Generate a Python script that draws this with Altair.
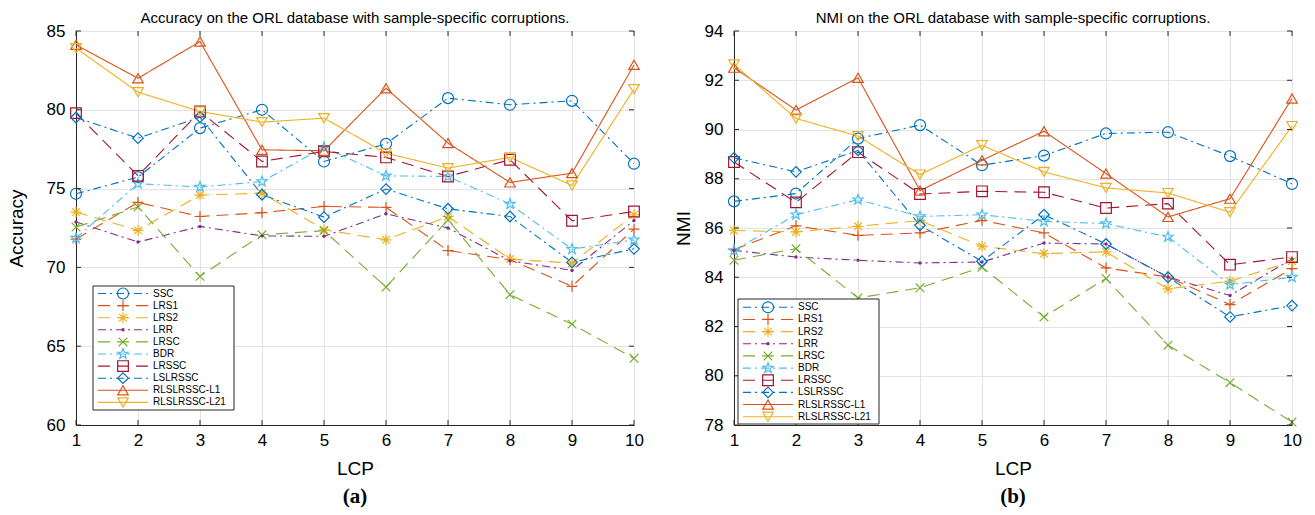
import math
import altair as alt
import pandas as pd

methods = ["SSC", "LRS1", "LRS2", "LRR", "LRSC", "BDR", "LRSSC", "LSLRSSC",
           "RLSLRSSC-L1", "RLSLRSSC-L21"]
lcp = [1, 2, 3, 4, 5, 6, 7, 8, 9, 10]

# (a) Accuracy
acc_ssc = [74.67, 75.73, 78.84, 80.0, 76.72, 77.84, 80.74, 80.32, 80.57, 76.58]
acc_lrs1 = [71.8, 74.12, 73.23, 73.47, 73.87, 73.81, 71.07, 70.49, 68.8, 72.43]
acc_lrs2 = [73.51, 72.35, 74.59, 74.71, 72.39, 71.75, 73.23, 70.53, 70.27, 73.34]
acc_lrr = [72.88, 71.61, 72.6, 72.0, 71.97, 73.4, 72.5, 70.42, 69.81, 72.98]
acc_lrsc = [72.56, 73.83, 69.43, 72.07, 72.33, 68.75, 73.02, 68.27, 66.4, 64.23]
acc_bdr = [71.86, 75.31, 75.1, 75.45, 77.63, 75.81, 75.77, 74.02, 71.16, 71.75]
acc_lrssc = [79.79, 75.81, 79.89, 76.72, 77.36, 76.98, 75.77, 76.83, 72.96, 73.55]
acc_lslrssc = [79.51, 78.2, 79.53, 74.61, 73.19, 74.97, 73.72, 73.23, 70.32, 71.18]
acc_l1 = [84.12, 82.0, 84.33, 77.46, 77.4, 81.37, 77.89, 75.39, 75.98, 82.85]
acc_l21 = [83.91, 81.12, 79.89, 79.22, 79.47, 77.25, 76.3, 76.98, 75.2, 81.31]

# (b) NMI
nmi_ssc = [87.08, 87.4, 89.63, 90.18, 88.55, 88.94, 89.84, 89.89, 88.92, 87.79]
nmi_lrs1 = [85.12, 86.09, 85.7, 85.8, 86.31, 85.8, 84.38, 84.01, 82.89, 84.35]
nmi_lrs2 = [85.9, 85.84, 86.07, 86.3, 85.26, 84.96, 85.03, 83.53, 83.84, 84.65]
nmi_lrr = [85.09, 84.82, 84.69, 84.58, 84.62, 85.39, 85.35, 84.01, 83.26, 84.74]
nmi_lrsc = [84.69, 85.16, 83.16, 83.57, 84.41, 82.39, 83.95, 81.24, 79.72, 78.12]
nmi_bdr = [85.09, 86.54, 87.15, 86.47, 86.54, 86.27, 86.18, 85.64, 83.7, 84.0]
nmi_lrssc = [88.68, 87.04, 89.08, 87.38, 87.49, 87.45, 86.81, 86.99, 84.51, 84.82]
nmi_lslrssc = [88.85, 88.28, 89.15, 86.11, 84.65, 86.54, 85.35, 84.0, 82.39, 82.85]
nmi_l1 = [92.51, 90.79, 92.1, 87.52, 88.75, 89.93, 88.21, 86.45, 87.19, 91.26]
nmi_l21 = [92.64, 90.45, 89.73, 88.17, 89.36, 88.28, 87.63, 87.42, 86.64, 90.14]

acc_series = [acc_ssc, acc_lrs1, acc_lrs2, acc_lrr, acc_lrsc, acc_bdr, acc_lrssc,
              acc_lslrssc, acc_l1, acc_l21]
nmi_series = [nmi_ssc, nmi_lrs1, nmi_lrs2, nmi_lrr, nmi_lrsc, nmi_bdr, nmi_lrssc,
              nmi_lslrssc, nmi_l1, nmi_l21]

acc_ticks = [60, 65, 70, 75, 80, 85]
nmi_ticks = [78, 80, 82, 84, 86, 88, 90, 92, 94]

# ---------------- styles ----------------
colors = ["#0072BD", "#D95319", "#EDB120", "#7E2F8E", "#77AC30", "#4DBEEE",
          "#A2142F", "#0072BD", "#D95319", "#EDB120"]
DASH = [12, 7]
DASHDOT = [8, 4, 2, 4]
SOLID = [1, 0]
dashes = [DASHDOT, DASH, DASH, DASHDOT, DASH, DASHDOT, DASH, DASHDOT, SOLID, SOLID]

PLUS = "M-1,0L1,0M0,-1L0,1"
ASTER = "M-1,0L1,0M0,-1L0,1M-0.7,-0.7L0.7,0.7M-0.7,0.7L0.7,-0.7"
XMARK = "M-0.8,-0.8L0.8,0.8M-0.8,0.8L0.8,-0.8"
pts = []
for i in range(10):
    r = 1.0 if i % 2 == 0 else 0.40
    a = math.radians(-90 + 36 * i)
    pts.append(f"{r * math.cos(a):.3f},{r * math.sin(a):.3f}")
STAR = "M" + "L".join(pts) + "Z"
shapes = ["circle", PLUS, ASTER, "circle", XMARK, STAR, "square", "diamond",
          "triangle-up", "triangle-down"]
sizes = [121, 110, 110, 10, 80, 170, 85, 120, 150, 150]

FONT = "Liberation Sans"
AXIS_COLOR = "#262626"

color_scale = alt.Scale(domain=methods, range=colors)
dash_scale = alt.Scale(domain=methods, range=dashes)
shape_scale = alt.Scale(domain=methods, range=shapes)
size_scale = alt.Scale(domain=methods, range=sizes)

W = 558
H = 394
TICK = 5


def make_df(series):
    rows = []
    for m, vals in zip(methods, series):
        for x, v in zip(lcp, vals):
            rows.append({"method": m, "LCP": x, "value": v})
    return pd.DataFrame(rows)


legend_df = pd.DataFrame({"method": methods, "row": list(range(len(methods)))})
xtick_df = pd.DataFrame({"LCP": lcp})


def panel(series, ticks, title, ytitle, label, ytitle_pad, box, row_top, row_bot):
    df = make_df(series)
    x = alt.X("LCP:Q", scale=alt.Scale(domain=[1, 10], nice=False, zero=False),
              axis=alt.Axis(values=lcp, format="d", title="LCP", titleFontSize=19,
                            titleFont=FONT, titleFontWeight="normal", titleColor="#000",
                            labelFont=FONT, labelFontSize=17, labelColor="#000",
                            labelPadding=7, titlePadding=11, ticks=False, tickSize=0,
                            domainColor=AXIS_COLOR, gridColor="#e3e3e3", labelFlush=False))
    y = alt.Y("value:Q", scale=alt.Scale(domain=[ticks[0], ticks[-1]], nice=False, zero=False),
              axis=alt.Axis(values=ticks, format="d", title=ytitle, titleFontSize=19,
                            titleFont=FONT, titleFontWeight="normal", titleColor="#000",
                            labelFont=FONT, labelFontSize=17, labelColor="#000",
                            labelPadding=11, titlePadding=ytitle_pad, ticks=False, tickSize=0,
                            domainColor=AXIS_COLOR, gridColor="#e3e3e3", labelFlush=False))
    base = alt.Chart(df)
    lines = base.mark_line(strokeWidth=1.1, clip=True).encode(
        x=x, y=y,
        color=alt.Color("method:N", scale=color_scale, legend=None),
        strokeDash=alt.StrokeDash("method:N", scale=dash_scale, legend=None),
        order="LCP:Q",
    )
    points = base.mark_point(filled=False, strokeWidth=1.2, opacity=1).encode(
        x=x, y=y,
        color=alt.Color("method:N", scale=color_scale, legend=None),
        shape=alt.Shape("method:N", scale=shape_scale, legend=None),
        size=alt.Size("method:N", scale=size_scale, legend=None),
    ).transform_filter(alt.datum.method != "LRR")
    dots = base.mark_circle(size=12, opacity=1).encode(
        x=x, y=y,
        color=alt.Color("method:N", scale=color_scale, legend=None),
    ).transform_filter(alt.datum.method == "LRR")

    # inward ticks on all four sides (MATLAB box style)
    ytick_df = pd.DataFrame({"value": ticks})
    xt_bottom = alt.Chart(xtick_df).mark_tick(
        orient="vertical", size=TICK, thickness=1, color=AXIS_COLOR, opacity=1).encode(
        x=x, y=alt.value(H - TICK / 2))
    xt_top = alt.Chart(xtick_df).mark_tick(
        orient="vertical", size=TICK, thickness=1, color=AXIS_COLOR, opacity=1).encode(
        x=x, y=alt.value(TICK / 2))
    yt_left = alt.Chart(ytick_df).mark_tick(
        orient="horizontal", size=TICK, thickness=1, color=AXIS_COLOR, opacity=1).encode(
        y=y, x=alt.value(TICK / 2))
    yt_right = alt.Chart(ytick_df).mark_tick(
        orient="horizontal", size=TICK, thickness=1, color=AXIS_COLOR, opacity=1).encode(
        y=y, x=alt.value(W - TICK / 2))

    data_layer = alt.layer(lines, points, dots, xt_bottom, xt_top, yt_left, yt_right)

    bx0, bx1, by0, by1 = box
    ly = alt.Y("row:Q", scale=alt.Scale(domain=[0, 9], range=[row_top, row_bot]), axis=None)
    lbase = alt.Chart(legend_df)
    lbox = alt.Chart(legend_df.head(1)).mark_rect(fill="white", stroke=AXIS_COLOR,
                                                  strokeWidth=1).encode(
        x=alt.value(bx0), x2=alt.value(bx1), y=alt.value(by0), y2=alt.value(by1))
    lline = lbase.mark_rule(strokeWidth=1.1).encode(
        x=alt.value(bx0 + 5), x2=alt.value(bx0 + 55), y=ly,
        color=alt.Color("method:N", scale=color_scale, legend=None),
        strokeDash=alt.StrokeDash("method:N", scale=dash_scale, legend=None))
    lpts = lbase.mark_point(filled=False, strokeWidth=1.2, opacity=1).encode(
        x=alt.value(bx0 + 30), y=ly,
        color=alt.Color("method:N", scale=color_scale, legend=None),
        shape=alt.Shape("method:N", scale=shape_scale, legend=None),
        size=alt.Size("method:N", scale=size_scale, legend=None),
    ).transform_filter(alt.datum.method != "LRR")
    ldot = lbase.mark_circle(size=12, opacity=1).encode(
        x=alt.value(bx0 + 30), y=ly,
        color=alt.Color("method:N", scale=color_scale, legend=None),
    ).transform_filter(alt.datum.method == "LRR")
    ltext = lbase.mark_text(align="left", baseline="middle", font=FONT, fontSize=10,
                            color="#000").encode(
        x=alt.value(bx0 + 60), y=ly, text="method:N")
    sub = alt.Chart(legend_df.head(1)).mark_text(
        font="Liberation Serif", fontWeight="bold", fontSize=21, color="#000",
        align="center", baseline="middle").encode(
        x=alt.value(W / 2), y=alt.value(466), text=alt.value(label))
    legend_layer = alt.layer(lbox, lline, lpts, ldot, ltext, sub)

    return alt.layer(data_layer, legend_layer).resolve_scale(
        x="independent", y="independent"
    ).properties(
        width=W, height=H,
        title=alt.Title(title, font=FONT, fontSize=15, fontWeight="normal", color="#000",
                        anchor="middle", frame="group", offset=-4),
    )


left = panel(acc_series, acc_ticks,
             "Accuracy on the ORL database with sample-specific corruptions.",
             "Accuracy", "(a)", 20, (17, 158, 255, 379), 262.5, 371.4)
right = panel(nmi_series, nmi_ticks,
              "NMI on the ORL database with sample-specific corruptions.",
              "NMI", "(b)", 11, (4, 145, 268, 393), 276.3, 385.7)

chart = alt.hconcat(left, right, spacing=29).properties(
    padding={"left": 6, "top": 10, "right": 5, "bottom": 0},
    background="white",
).configure_view(stroke=AXIS_COLOR, strokeWidth=1)

chart.save("out.html", embed_options={"renderer": "svg", "actions": False})
